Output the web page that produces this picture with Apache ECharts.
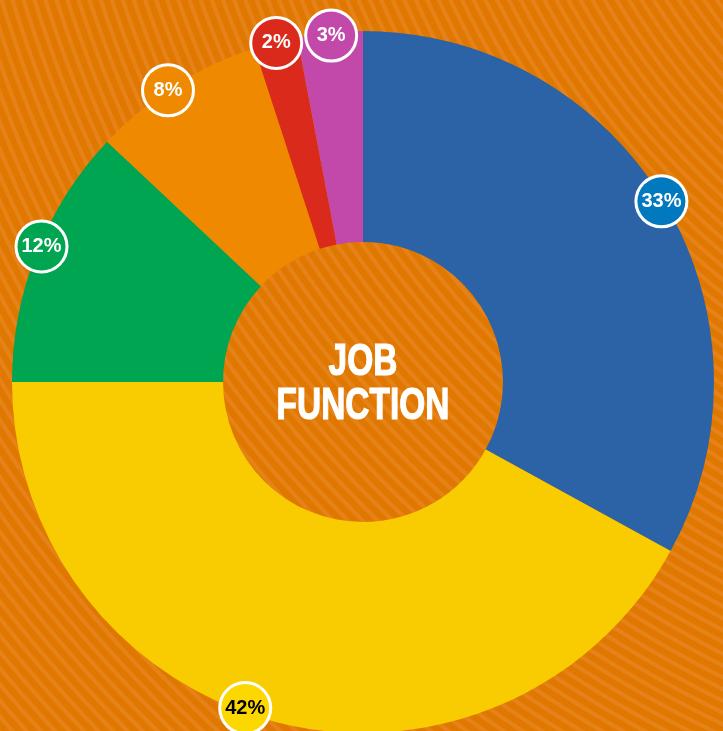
<!DOCTYPE html>
<html>
<head>
<meta charset="utf-8">
<script src="https://cdn.jsdelivr.net/npm/echarts@6/dist/echarts.min.js"></script>
<style>
  html, body { margin: 0; padding: 0; }
  #job-function {
    width: 723px;
    height: 731px;
    background-color: #e07800;
    background-image: repeating-radial-gradient(circle at 1255px -380px, #e07800 0px, #e07800 5px, #e5831a 6.5px, #e5831a 9px, #e07800 10.5px);
  }
</style>
</head>
<body>
<div id="job-function"></div>
<script>
var categories = ['Blue', 'Yellow', 'Green', 'Orange', 'Red', 'Magenta'];
var shares = [33, 42, 12, 8, 2, 3];
var sliceColors = ['#2b63a6', '#f8cc00', '#00a551', '#ef8a00', '#da2a1c', '#c248aa'];
var badgeColors = ['#0079bf', '#fdd800', '#00a551', '#ef8a00', '#da2a1c', '#c248aa'];
var badgeText = ['#fff', '#000', '#fff', '#fff', '#fff', '#fff'];

var job_fn = echarts.init(document.getElementById('job-function'));

var slices = categories.map(function (name, i) {
    return { name: name, value: shares[i], itemStyle: { color: sliceColors[i] } };
});

var badges = categories.map(function (name, i) {
    return {
        name: name,
        value: shares[i],
        label: { backgroundColor: badgeColors[i], color: badgeText[i] }
    };
});

// small nudges so the badges sit where the original put them
var nudges = [[-2, -3], [-31, -12], [3, -7], [-8, 3], [0, -1], [1, 1]];

var job_fn_option = {
    backgroundColor: 'transparent',
    animation: false,
    graphic: [
        {
            type: 'text',
            x: 363,
            y: 385,
            scaleX: 0.76,
            style: {
                text: 'JOB\nFUNCTION',
                fill: '#fff',
                stroke: '#fff',
                lineWidth: 1.2,
                font: 'bold 44px "Liberation Sans", Arial, sans-serif',
                lineHeight: 44,
                align: 'center',
                verticalAlign: 'middle'
            },
            z: 10
        }
    ],
    series: [
        {
            name: 'job function',
            type: 'pie',
            center: [363, 382],
            radius: [140, 351],
            startAngle: 90,
            clockwise: true,
            silent: true,
            label: { show: false },
            labelLine: { show: false },
            data: slices
        },
        {
            name: 'badges',
            type: 'pie',
            center: [363, 382],
            radius: [334, 358],
            startAngle: 90,
            clockwise: true,
            silent: true,
            itemStyle: { color: 'transparent' },
            label: {
                show: true,
                position: 'inside',
                formatter: '{c}%',
                fontFamily: '"Liberation Sans", Arial, sans-serif',
                fontWeight: 'bold',
                fontSize: 20,
                width: 48,
                height: 48,
                lineHeight: 48,
                align: 'center',
                verticalAlign: 'middle',
                borderRadius: 27,
                borderWidth: 3,
                borderColor: '#fff'
            },
            labelLine: { show: false },
            labelLayout: function (params) {
                var n = nudges[params.dataIndex];
                return { dx: n[0], dy: n[1] };
            },
            data: badges,
            z: 5
        }
    ]
};

job_fn.setOption(job_fn_option);
</script>
</body>
</html>
